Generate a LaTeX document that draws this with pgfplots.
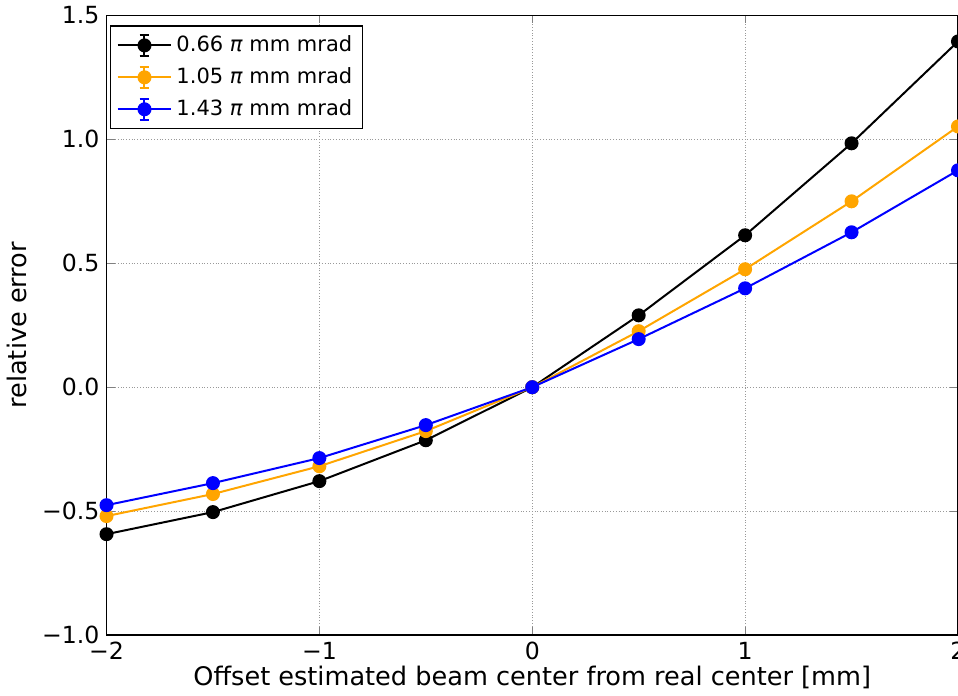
\documentclass[border=0pt]{standalone}
\usepackage{pgfplots}
\pgfplotsset{compat=1.18}
\usepackage{fontspec}
\setmainfont{DejaVu Sans}
\definecolor{mplorange}{HTML}{FFA500}
\definecolor{mplblue}{HTML}{0000FF}
\begin{document}
\begin{tikzpicture}[trim axis right]
\begin{axis}[
  scale only axis,
  width=426pt, height=310pt,
  xmin=-2, xmax=2, ymin=-1, ymax=1.5,
  xtick={-2,-1,0,1,2},
  xticklabels={−2,−1,0,1,2},
  ytick={-1,-0.5,0,0.5,1,1.5},
  yticklabels={−1.0,−0.5,0.0,0.5,1.0,1.5},
  tick label style={font=\fontsize{11.8}{13}\selectfont},
  label style={font=\fontsize{12.8}{14}\selectfont},
  xlabel={Offset estimated beam center from real center [mm]},
  ylabel={relative error},
  xlabel style={yshift=4pt},
  ylabel style={yshift=1pt},
  grid=major,
  major grid style={densely dotted, gray!80, line width=0.5pt},
  tick align=inside,
  major tick length=4pt,
  axis line style={line width=0.6pt},
  legend cell align=left,
  legend style={at={(0.004,0.984)}, anchor=north west, draw=black, line width=0.6pt,
    font=\fontsize{10.5}{12}\selectfont, row sep=2.5pt, inner sep=3pt},
  legend image code/.code={
    \draw[#1, line width=1pt] (0pt,0pt) -- (27pt,0pt);
    \draw[#1, line width=1pt] (13.5pt,-5.2pt) -- (13.5pt,5.2pt);
    \draw[#1, line width=1pt] (11pt,-5.2pt) -- (16pt,-5.2pt);
    \draw[#1, line width=1pt] (11pt,5.2pt) -- (16pt,5.2pt);
    \fill[#1] (13.5pt,0pt) circle (3pt);
  },
]
\addplot[black, line width=1pt, mark=*, mark size=3pt, mark options={solid}] coordinates {
(-2,-0.593) (-1.5,-0.504) (-1,-0.379) (-0.5,-0.214) (0,0) (0.5,0.290) (1,0.613) (1.5,0.984) (2,1.395)};
\addlegendentry{0.66 \textit{π} mm mrad}
\addplot[mplorange, line width=1pt, mark=*, mark size=3pt] coordinates {
(-2,-0.520) (-1.5,-0.431) (-1,-0.319) (-0.5,-0.177) (0,0) (0.5,0.226) (1,0.476) (1.5,0.750) (2,1.052)};
\addlegendentry{1.05 \textit{π} mm mrad}
\addplot[mplblue, line width=1pt, mark=*, mark size=3pt] coordinates {
(-2,-0.476) (-1.5,-0.387) (-1,-0.286) (-0.5,-0.153) (0,0) (0.5,0.194) (1,0.399) (1.5,0.625) (2,0.875)};
\addlegendentry{1.43 \textit{π} mm mrad}
\end{axis}
\end{tikzpicture}
\end{document}
